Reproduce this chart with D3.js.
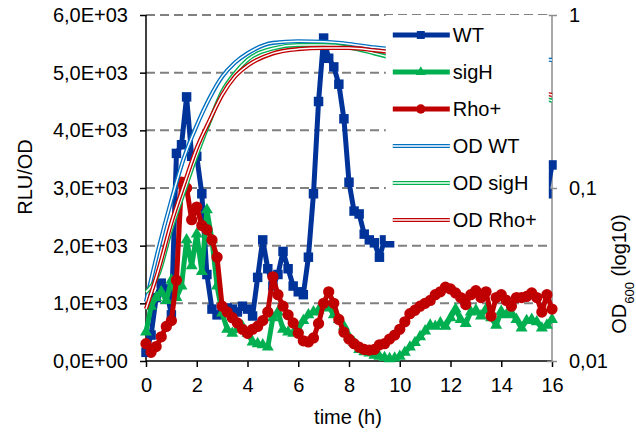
<!DOCTYPE html>
<html>
<head>
<meta charset="utf-8">
<script src="https://cdn.jsdelivr.net/npm/d3@7"></script>
<style>
  body { margin: 0; background: #fff; }
  text { font-family: "Liberation Sans", Arial, sans-serif; fill: #000; }
</style>
</head>
<body>
<svg id="chart" width="636" height="437"></svg>
<script>
// sampling times (h) for the luminescence series
var hours = [0, 0.2, 0.4, 0.6, 0.8, 1, 1.2, 1.4, 1.6, 1.8, 2, 2.2, 2.4, 2.6, 2.8, 3, 3.2, 3.4, 3.6, 3.8,
  4, 4.2, 4.4, 4.6, 4.8, 5, 5.2, 5.4, 5.6, 5.8, 6, 6.2, 6.4, 6.6, 6.8, 7, 7.2, 7.4, 7.6, 7.8,
  8, 8.2, 8.4, 8.6, 8.8, 9, 9.2, 9.4, 9.6, 9.8, 10, 10.2, 10.4, 10.6, 10.8, 11, 11.2, 11.4, 11.6, 11.8,
  12, 12.2, 12.4, 12.6, 12.8, 13, 13.2, 13.4, 13.6, 13.8, 14, 14.2, 14.4, 14.6, 14.8, 15, 15.2, 15.4, 15.6, 15.8, 16];

// RLU/OD values
var wt = [150, 450, 1100, 1350, 1250, 800, 3600, 3750, 4580, 3550, 3550, 2900, 1500, 900, 800, 850, 920, 900, 850, 950,
  900, 780, 1450, 2100, 1600, 1300, 1500, 1900, 1600, 1300, 1200, 1150, 1800, 2900, 4500, 5600, 5250, 5100, 4800, 4200,
  3100, 2600, 2550, 2200, 2100, 2050, 1800, 2100, 2050, 2200, 2300, 2400, 2450, 2500, 2550, 2600, 2650, 2700, 2700, 2750,
  2800, 2800, 2850, 2900, 2900, 2950, 3000, 3000, 3050, 3050, 3100, 3100, 3150, 3150, 3200, 3200, 3250, 3250, 3300, 2900, 3400];
var sigH = [500, 950, 1100, 1200, 1050, 1400, 1100, 1300, 2100, 1650, 2200, 1550, 2620, 2100, 1300, 830, 550, 480, 550, 600,
  480, 330, 300, 280, 240, 750, 850, 550, 500, 480, 550, 700, 800, 850, 880, 920, 940, 800, 720, 600,
  420, 320, 200, 160, 140, 100, 80, 60, 40, 50, 80, 150, 240, 320, 420, 520, 620, 600, 660, 600,
  750, 900, 720, 650, 850, 880, 780, 900, 750, 620, 860, 800, 830, 720, 570, 700, 720, 680, 570, 620, 720];
var rho = [300, 150, 250, 420, 600, 700, 1400, 3100, 3000, 2450, 2670, 2350, 2280, 2100, 1800, 950, 850, 750, 660, 550,
  480, 550, 600, 700, 850, 1460, 1150, 950, 800, 660, 480, 350, 330, 400, 650, 1000, 1200, 1000, 720, 500,
  380, 300, 240, 200, 190, 200, 280, 300, 380, 450, 550, 680, 820, 880, 950, 1000, 1050, 1150, 1200, 1280,
  1250, 1180, 1100, 980, 1150, 1220, 1100, 1200, 780, 1100, 1150, 1050, 950, 1100, 1100, 1120, 1180, 1100, 850, 1150, 900];

// OD600 (secondary, log axis)
var odHours = [0, 0.5, 1, 1.5, 2, 2.5, 3, 3.5, 4, 5, 6, 7, 8, 9, 10, 12, 14, 16];
var odWT   = [0.022, 0.045, 0.085, 0.15, 0.23, 0.33, 0.44, 0.53, 0.6, 0.69, 0.705, 0.70, 0.68, 0.65, 0.63, 0.6, 0.57, 0.55];
var odSigH = [0.025, 0.032, 0.058, 0.095, 0.155, 0.24, 0.36, 0.46, 0.55, 0.64, 0.67, 0.67, 0.65, 0.6, 0.55, 0.45, 0.38, 0.32];
var odRho  = [0.02, 0.034, 0.063, 0.105, 0.17, 0.245, 0.345, 0.44, 0.51, 0.6, 0.635, 0.645, 0.645, 0.625, 0.6, 0.5, 0.41, 0.345];

var leftTicks = [0, 1000, 2000, 3000, 4000, 5000, 6000];
var rightTicks = [0.01, 0.1, 1];
var xTicks = [0, 2, 4, 6, 8, 10, 12, 14, 16];

var series = [
  { name: "WT", values: wt, color: "#003399", symbol: d3.symbolSquare, size: 90 },
  { name: "sigH", values: sigH, color: "#00b050", symbol: d3.symbolTriangle, size: 62 },
  { name: "Rho+", values: rho, color: "#c00000", symbol: d3.symbolCircle, size: 100 }
];
var odSeries = [
  { name: "OD WT", values: odWT, color: "#0070c0" },
  { name: "OD sigH", values: odSigH, color: "#00b050" },
  { name: "OD Rho+", values: odRho, color: "#c00000" }
];

var svg = d3.select("#chart"),
    margin = { top: 15, right: 84, bottom: 76, left: 146 },
    width = +svg.attr("width") - margin.left - margin.right,
    height = +svg.attr("height") - margin.top - margin.bottom,
    g = svg.append("g").attr("transform", "translate(" + margin.left + "," + margin.top + ")");

var x = d3.scaleLinear().domain([0, 16]).range([0, width]),
    y = d3.scaleLinear().domain([0, 6000]).range([height, 0]),
    yR = d3.scaleLog().domain([0.01, 1]).range([height, 0]);

// dashed grid
g.selectAll(".grid").data(leftTicks.slice(1)).enter().append("line")
  .attr("x1", 0).attr("x2", width)
  .attr("y1", function (d) { return y(d); }).attr("y2", function (d) { return y(d); })
  .attr("stroke", "#808080").attr("stroke-width", 2).attr("stroke-dasharray", "9,5");

// axes
var fmtLeft = function (d) { return d === 0 ? "0,0E+00" : (d / 1000).toFixed(1).replace(".", ",") + "E+03"; };
var fmtRight = function (d) { return d === 1 ? "1" : String(d).replace(".", ","); };

var gx = g.append("g").attr("transform", "translate(0," + height + ")")
  .call(d3.axisBottom(x).tickValues(xTicks).tickSize(6).tickPadding(6).tickFormat(d3.format("d")));
var gy = g.append("g")
  .call(d3.axisLeft(y).tickValues(leftTicks).tickSize(6).tickPadding(12).tickFormat(fmtLeft));
var gr = g.append("g").attr("transform", "translate(" + width + ",0)")
  .call(d3.axisRight(yR).tickValues(rightTicks).tickSize(5).tickPadding(12).tickFormat(fmtRight));

[gx, gy, gr].forEach(function (a) {
  a.select(".domain").attr("stroke-width", 1.5);
  a.selectAll(".tick line").attr("stroke-width", 1.5);
  a.selectAll("text").style("font-size", "20px").attr("fill", "#000");
});
gx.selectAll("text").attr("dy", "0.95em");
gr.select(".domain").attr("stroke", "#8c8c8c").attr("d", "M0,0V" + height);
gr.selectAll(".tick line").attr("stroke", "#8c8c8c").attr("x1", -5);
gy.select(".domain").attr("d", "M0,0V" + height);
gx.select(".domain").attr("d", "M0,0H" + width);

// luminescence series
var line = d3.line()
  .x(function (d, i) { return x(hours[i]); })
  .y(function (d) { return y(d); });

series.forEach(function (s) {
  var sg = g.append("g").attr("class", "series");
  sg.append("path").datum(s.values)
    .attr("fill", "none").attr("stroke", s.color).attr("stroke-width", 5)
    .attr("stroke-linejoin", "round").attr("d", line);
  sg.selectAll("path.marker").data(s.values).enter().append("path")
    .attr("class", "marker")
    .attr("transform", function (d, i) { return "translate(" + x(hours[i]) + "," + y(d) + ")"; })
    .attr("d", d3.symbol().type(s.symbol).size(s.size))
    .attr("fill", s.color);
});

// OD series, double line
var odLine = d3.line()
  .curve(d3.curveMonotoneX)
  .x(function (d, i) { return x(odHours[i]); })
  .y(function (d) { return yR(d); });

odSeries.forEach(function (s) {
  g.append("path").datum(s.values)
    .attr("fill", "none").attr("stroke", s.color).attr("stroke-width", 4.2).attr("d", odLine);
  g.append("path").datum(s.values)
    .attr("fill", "none").attr("stroke", "#fff").attr("stroke-width", 1.5).attr("d", odLine);
});

// legend (white box over the plot)
var legend = g.append("g").attr("transform", "translate(" + (x(9.45)) + ",0)");
legend.append("rect").attr("x", 0).attr("y", 0).attr("width", 163).attr("height", 226).attr("fill", "#fff");

var items = series.concat(odSeries);
items.forEach(function (s, i) {
  var ly = 20 + i * 37;
  var li = legend.append("g").attr("transform", "translate(0," + ly + ")");
  if (s.symbol) {
    li.append("line").attr("x1", 7).attr("x2", 64).attr("stroke", s.color).attr("stroke-width", 5);
    li.append("path").attr("transform", "translate(35,0)")
      .attr("d", d3.symbol().type(s.symbol).size(s.size * 0.7)).attr("fill", s.color);
  } else {
    li.append("line").attr("x1", 7).attr("x2", 64).attr("stroke", s.color).attr("stroke-width", 4.2);
    li.append("line").attr("x1", 7).attr("x2", 64).attr("stroke", "#fff").attr("stroke-width", 1.5);
  }
  li.append("text").attr("x", 67).attr("dy", "0.36em").style("font-size", "20px").text(s.name);
});

// axis titles
svg.append("text").attr("transform", "translate(32," + (margin.top + height / 2 - 11) + ") rotate(-90)")
  .attr("text-anchor", "middle").style("font-size", "20px").text("RLU/OD");
svg.append("text").attr("x", margin.left + width / 2 - 1).attr("y", 424)
  .attr("text-anchor", "middle").style("font-size", "20px").text("time (h)");

var rt = svg.append("text").attr("transform", "translate(626,274) rotate(-90)")
  .attr("text-anchor", "middle").style("font-size", "20px");
rt.append("tspan").text("OD");
rt.append("tspan").attr("baseline-shift", "sub").style("font-size", "13px").text("600");
rt.append("tspan").text(" (log10)");
</script>
</body>
</html>
